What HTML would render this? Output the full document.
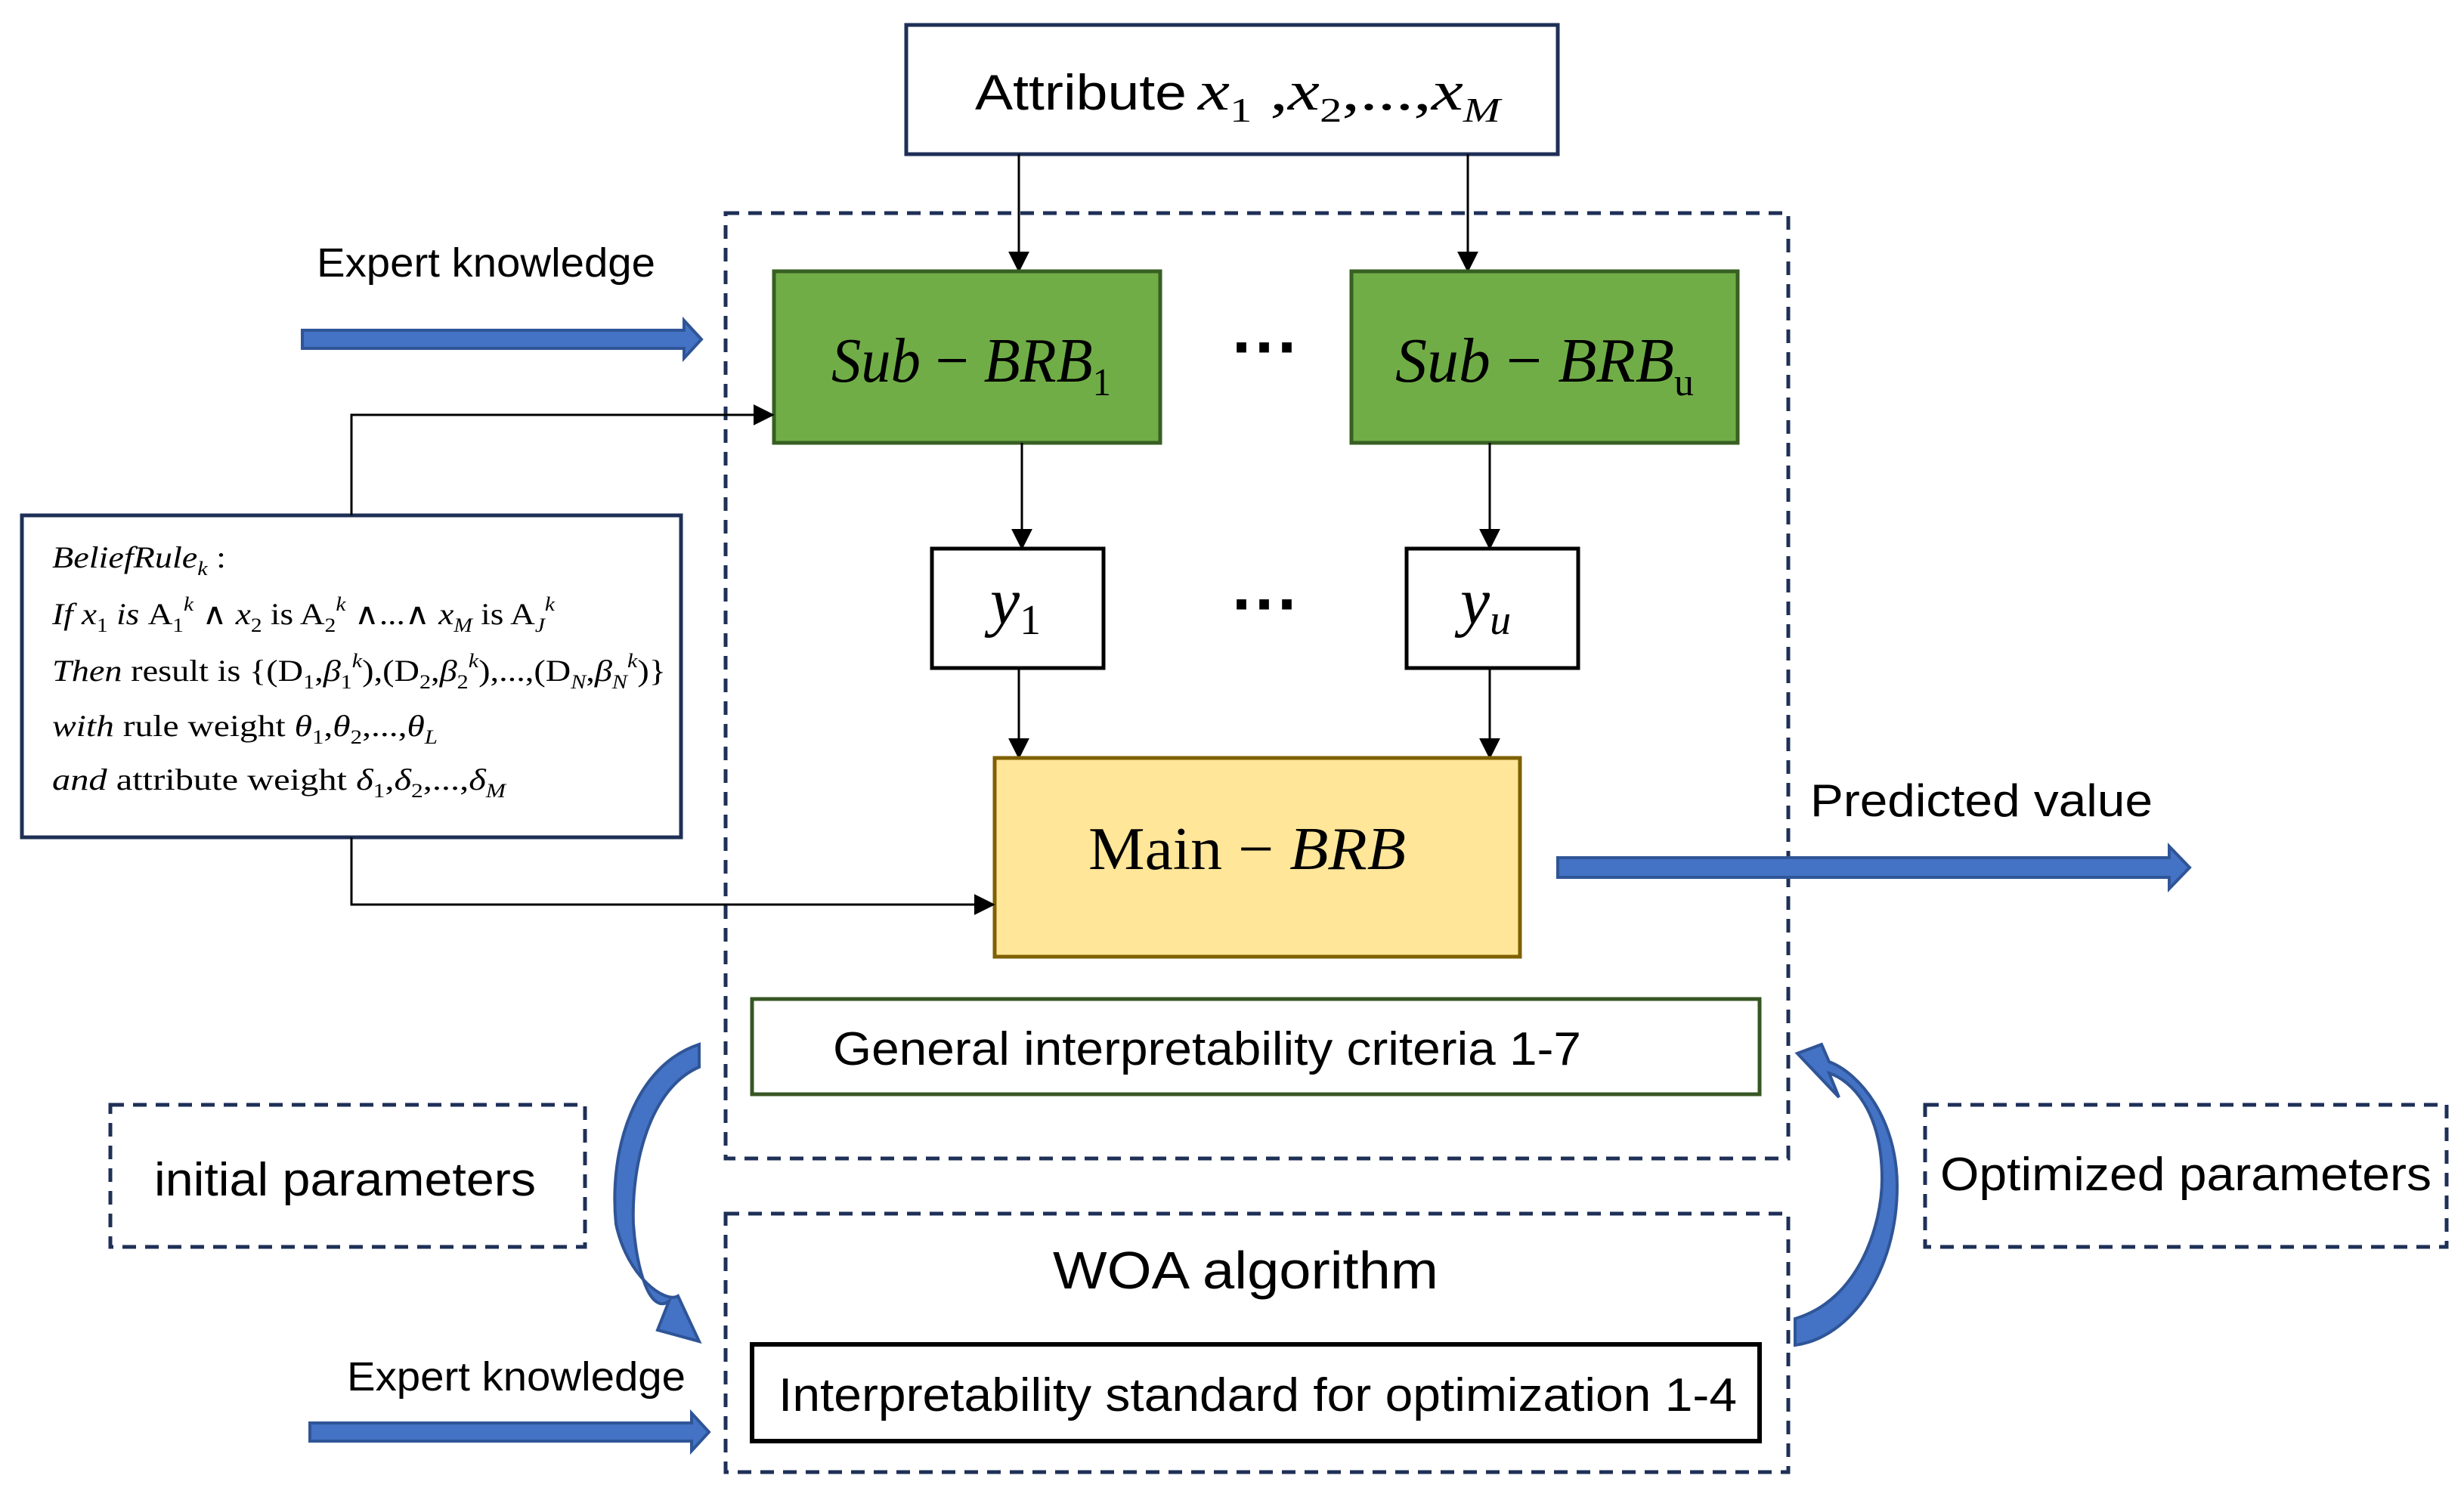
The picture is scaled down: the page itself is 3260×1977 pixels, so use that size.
<!DOCTYPE html>
<html><head><meta charset="utf-8"><style>html,body{margin:0;padding:0;background:#fff}svg{display:block}</style></head>
<body>
<svg width="3260" height="1977" viewBox="0 0 3260 1977" xmlns="http://www.w3.org/2000/svg">
<defs>
<marker id="ah2" viewBox="0 0 10 10" markerWidth="28" markerHeight="28" refX="9" refY="5" orient="auto" markerUnits="userSpaceOnUse"><path d="M0,0 L10,5 L0,10 z" fill="#000"/></marker>
</defs>
<g font-family="Liberation Sans, sans-serif">
<rect x="960" y="282" width="1406" height="1251" fill="none" stroke="#1f3057" stroke-width="5" stroke-dasharray="18,12"/>
<rect x="960" y="1606" width="1406" height="342" fill="none" stroke="#1f3057" stroke-width="5" stroke-dasharray="18,12"/>
<rect x="146" y="1462" width="628" height="188" fill="none" stroke="#1f3057" stroke-width="5" stroke-dasharray="18,12"/>
<rect x="2547" y="1462" width="690" height="188" fill="none" stroke="#1f3057" stroke-width="5" stroke-dasharray="18,12"/>

<rect x="1199" y="33" width="862" height="171" fill="#fff" stroke="#1f3057" stroke-width="5"/>
<text x="1290" y="145" font-size="66" textLength="280" lengthAdjust="spacingAndGlyphs">Attribute</text>
<text x="1585" y="145" font-family="Liberation Serif, serif" font-size="74" font-style="italic" textLength="400" lengthAdjust="spacingAndGlyphs">x<tspan font-size="46" dy="16" font-style="normal">1</tspan><tspan dy="-16" font-style="normal"> ,</tspan>x<tspan font-size="46" dy="16" font-style="normal">2</tspan><tspan dy="-16" font-style="normal">,...,</tspan>x<tspan font-size="46" dy="16">M</tspan></text>

<line x1="1348" y1="204" x2="1348" y2="358" stroke="#000" stroke-width="3" marker-end="url(#ah2)"/>
<line x1="1942" y1="204" x2="1942" y2="358" stroke="#000" stroke-width="3" marker-end="url(#ah2)"/>

<rect x="1024" y="359" width="511" height="227" fill="#70ad47" stroke="#375f22" stroke-width="5"/>
<rect x="1788" y="359" width="511" height="227" fill="#70ad47" stroke="#375f22" stroke-width="5"/>
<text x="1100" y="505" font-family="Liberation Serif, serif" font-size="84" font-style="italic" textLength="370" lengthAdjust="spacingAndGlyphs">Sub<tspan font-style="normal"> − </tspan>BRB<tspan font-style="normal" font-size="52" dy="18">1</tspan></text>
<text x="1846" y="505" font-family="Liberation Serif, serif" font-size="84" font-style="italic" textLength="395" lengthAdjust="spacingAndGlyphs">Sub<tspan font-style="normal"> − </tspan>BRB<tspan font-style="normal" font-size="52" dy="18">u</tspan></text>
<text x="1675" y="490" font-size="90" font-weight="bold" text-anchor="middle">···</text>

<line x1="1352" y1="586" x2="1352" y2="725" stroke="#000" stroke-width="3" marker-end="url(#ah2)"/>
<line x1="1971" y1="586" x2="1971" y2="725" stroke="#000" stroke-width="3" marker-end="url(#ah2)"/>
<rect x="1233" y="726" width="227" height="158" fill="#fff" stroke="#000" stroke-width="5"/>
<rect x="1861" y="726" width="227" height="158" fill="#fff" stroke="#000" stroke-width="5"/>
<text x="1310" y="825" font-family="Liberation Serif, serif" font-size="88" font-style="italic">y<tspan font-style="normal" font-size="56" dy="14">1</tspan></text>
<text x="1932" y="825" font-family="Liberation Serif, serif" font-size="88" font-style="italic">y<tspan font-size="56" dy="14">u</tspan></text>
<text x="1675" y="830" font-size="90" font-weight="bold" text-anchor="middle">···</text>

<line x1="1348" y1="884" x2="1348" y2="1002" stroke="#000" stroke-width="3" marker-end="url(#ah2)"/>
<line x1="1971" y1="884" x2="1971" y2="1002" stroke="#000" stroke-width="3" marker-end="url(#ah2)"/>

<rect x="1316" y="1003" width="695" height="263" fill="#ffe699" stroke="#7f6000" stroke-width="5"/>
<text x="1440" y="1150" font-family="Liberation Serif, serif" font-size="80" textLength="420" lengthAdjust="spacingAndGlyphs">Main − <tspan font-style="italic">BRB</tspan></text>

<rect x="995" y="1322" width="1333" height="126" fill="#fff" stroke="#375623" stroke-width="5"/>
<text x="1102" y="1409" font-size="62" textLength="990" lengthAdjust="spacingAndGlyphs">General interpretability criteria 1-7</text>

<text x="1648" y="1705" font-size="70" text-anchor="middle" textLength="510" lengthAdjust="spacingAndGlyphs">WOA algorithm</text>
<rect x="995" y="1779" width="1333" height="128" fill="#fff" stroke="#000" stroke-width="6"/>
<text x="1030" y="1867" font-size="62" textLength="1268" lengthAdjust="spacingAndGlyphs">Interpretability standard for optimization 1-4</text>

<text x="204" y="1582" font-size="62" textLength="505" lengthAdjust="spacingAndGlyphs">initial parameters</text>
<text x="2567" y="1575" font-size="62" textLength="650" lengthAdjust="spacingAndGlyphs">Optimized parameters</text>

<rect x="29" y="682" width="872" height="426" fill="#fff" stroke="#1f3057" stroke-width="5"/>
<g font-family="Liberation Serif, serif" font-size="40">
<text x="69" y="751" textLength="230" lengthAdjust="spacingAndGlyphs"><tspan font-style="italic">BeliefRule</tspan><tspan font-size="26" dy="10" font-style="italic">k</tspan><tspan dy="-10"> :</tspan></text>
<text x="69" y="826" textLength="665" lengthAdjust="spacingAndGlyphs"><tspan font-style="italic">If  x</tspan><tspan font-size="26" dy="10">1</tspan><tspan dy="-10" font-style="italic"> is </tspan>A<tspan font-size="26" dy="10">1</tspan><tspan font-size="26" dy="-28" font-style="italic">k</tspan><tspan dy="18"> ∧ </tspan><tspan font-style="italic">x</tspan><tspan font-size="26" dy="10">2</tspan><tspan dy="-10"> is A</tspan><tspan font-size="26" dy="10">2</tspan><tspan font-size="26" dy="-28" font-style="italic">k</tspan><tspan dy="18"> ∧...∧ </tspan><tspan font-style="italic">x</tspan><tspan font-size="26" dy="10" font-style="italic">M</tspan><tspan dy="-10">  is A</tspan><tspan font-size="26" dy="10" font-style="italic">J</tspan><tspan font-size="26" dy="-28" font-style="italic">k</tspan></text>
<text x="69" y="901" textLength="812" lengthAdjust="spacingAndGlyphs"><tspan font-style="italic">Then</tspan> result is {(D<tspan font-size="26" dy="10">1</tspan><tspan dy="-10">,</tspan><tspan font-style="italic">β</tspan><tspan font-size="26" dy="10">1</tspan><tspan font-size="26" dy="-28" font-style="italic">k</tspan><tspan dy="18">),(D</tspan><tspan font-size="26" dy="10">2</tspan><tspan dy="-10">,</tspan><tspan font-style="italic">β</tspan><tspan font-size="26" dy="10">2</tspan><tspan font-size="26" dy="-28" font-style="italic">k</tspan><tspan dy="18">),...,(D</tspan><tspan font-size="26" dy="10" font-style="italic">N</tspan><tspan dy="-10">,</tspan><tspan font-style="italic">β</tspan><tspan font-size="26" dy="10" font-style="italic">N</tspan><tspan font-size="26" dy="-28" font-style="italic">k</tspan><tspan dy="18">)}</tspan></text>
<text x="69" y="974" textLength="510" lengthAdjust="spacingAndGlyphs"><tspan font-style="italic">with</tspan> rule weight <tspan font-style="italic">θ</tspan><tspan font-size="26" dy="10">1</tspan><tspan dy="-10">,</tspan><tspan font-style="italic">θ</tspan><tspan font-size="26" dy="10">2</tspan><tspan dy="-10">,...,</tspan><tspan font-style="italic">θ</tspan><tspan font-size="26" dy="10" font-style="italic">L</tspan></text>
<text x="69" y="1045" textLength="600" lengthAdjust="spacingAndGlyphs"><tspan font-style="italic">and</tspan>  attribute weight <tspan font-style="italic">δ</tspan><tspan font-size="26" dy="10">1</tspan><tspan dy="-10">,</tspan><tspan font-style="italic">δ</tspan><tspan font-size="26" dy="10">2</tspan><tspan dy="-10">,...,</tspan><tspan font-style="italic">δ</tspan><tspan font-size="26" dy="10" font-style="italic">M</tspan></text>
</g>

<polyline points="465,682 465,549 1022,549" fill="none" stroke="#000" stroke-width="3" marker-end="url(#ah2)"/>
<polyline points="465,1108 465,1197 1314,1197" fill="none" stroke="#000" stroke-width="3" marker-end="url(#ah2)"/>

<g fill="#4472c4" stroke="#2f5597" stroke-width="4">
<path d="M400,437 L905,437 L905,424 L928,449 L905,474 L905,461 L400,461 Z"/>
<path d="M2061,1135 L2870,1135 L2870,1120 L2897,1148 L2870,1176 L2870,1161 L2061,1161 Z"/>
<path d="M410,1883 L915,1883 L915,1870 L938,1895 L915,1920 L915,1907 L410,1907 Z"/>
<path d="M925,1382 L925,1412 C860,1440 835,1540 838,1620 C842,1680 860,1740 885,1722 L870,1760 L925,1775 L897,1715 C880,1725 830,1690 815,1620 C805,1520 840,1410 925,1382 Z"/>
<path d="M2375,1780 L2375,1745 C2460,1720 2490,1620 2490,1560 C2490,1470 2450,1430 2420,1420 L2433,1452 L2378,1394 L2410,1382 L2420,1405 C2460,1420 2510,1480 2510,1570 C2510,1680 2450,1770 2375,1780 Z"/>
</g>

<text x="419" y="366" font-size="54" textLength="448" lengthAdjust="spacingAndGlyphs">Expert knowledge</text>
<text x="459" y="1840" font-size="54" textLength="448" lengthAdjust="spacingAndGlyphs">Expert knowledge</text>
<text x="2395" y="1080" font-size="60" textLength="453" lengthAdjust="spacingAndGlyphs">Predicted value</text>
</g>
</svg>
</body></html>
